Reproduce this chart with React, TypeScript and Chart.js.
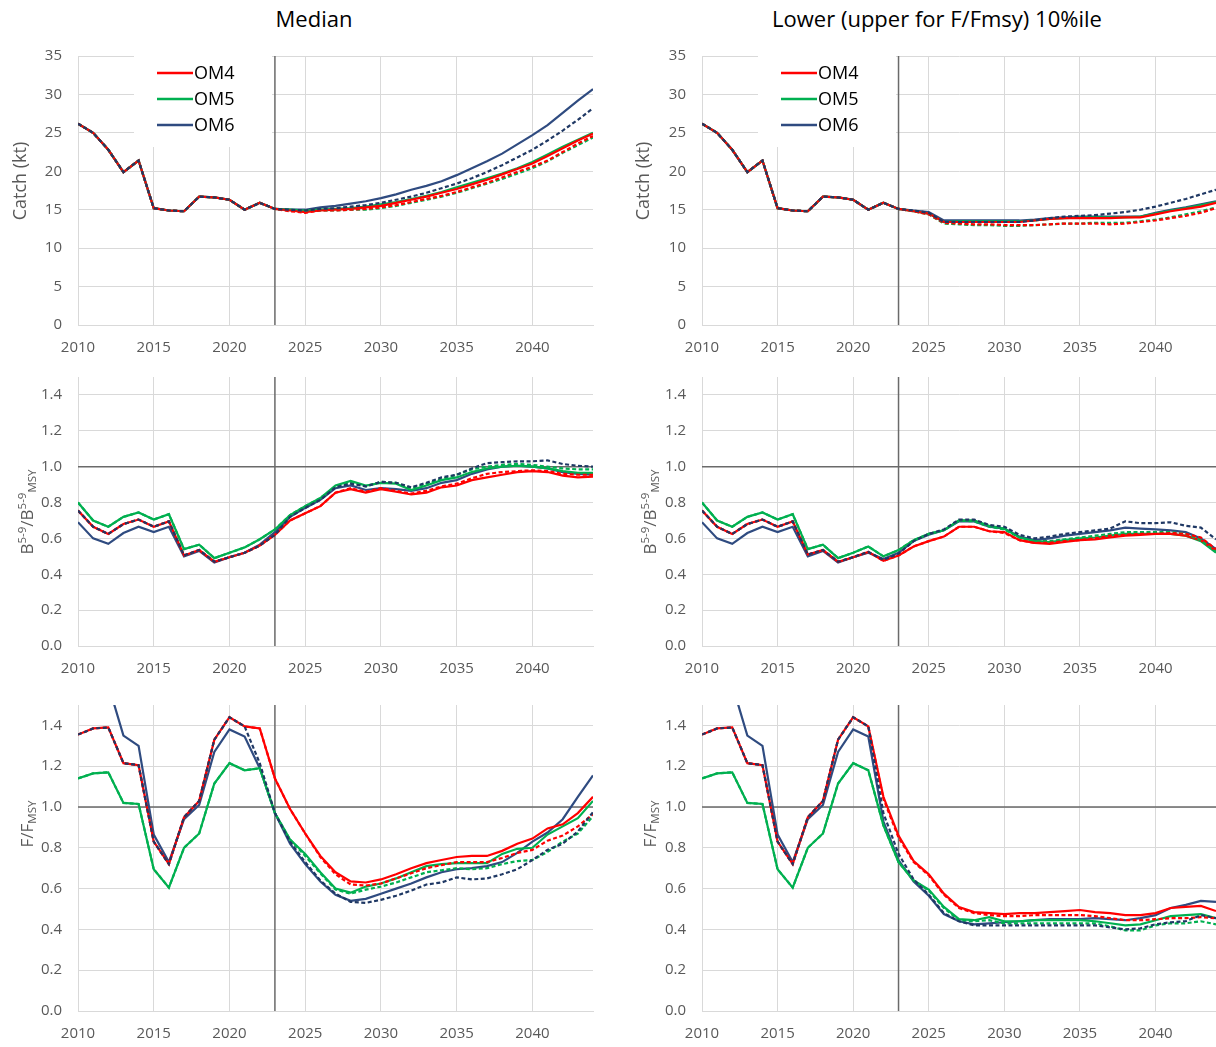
import React, { useEffect, useRef } from "react";
import { Chart, registerables } from "chart.js";
Chart.register(...registerables);

const FONT = "'Open Sans', 'Noto Sans', sans-serif";
const RED = "#FF0000";
const GREEN = "#00B050";
const NAVY = "#2F4B80";
const NAVY_D = "#1F3864";

const YEARS = [2010, 2011, 2012, 2013, 2014, 2015, 2016, 2017, 2018, 2019, 2020, 2021, 2022, 2023, 2024, 2025, 2026, 2027, 2028, 2029, 2030, 2031, 2032, 2033, 2034, 2035, 2036, 2037, 2038, 2039, 2040, 2041, 2042, 2043, 2044];

// ---------- Catch (kt) ----------
const catchHist = [26.2, 25.0, 22.8, 19.9, 21.4, 15.2, 14.9, 14.8, 16.7, 16.6, 16.3, 15.0, 15.9, 15.1];
const catchMedOM4 = [...catchHist, 14.9, 14.7, 14.9, 15.0, 15.1, 15.3, 15.5, 15.9, 16.3, 16.7, 17.2, 17.7, 18.3, 18.9, 19.6, 20.3, 21.0, 22.0, 23.0, 24.0, 24.9];
const catchMedOM5 = [...catchHist, 15.0, 14.9, 15.0, 15.1, 15.2, 15.4, 15.7, 16.0, 16.4, 16.8, 17.3, 17.9, 18.5, 19.1, 19.7, 20.4, 21.2, 22.2, 23.2, 24.1, 25.0];
const catchMedOM6 = [...catchHist, 15.0, 15.0, 15.3, 15.5, 15.8, 16.1, 16.5, 17.0, 17.6, 18.1, 18.7, 19.5, 20.4, 21.3, 22.3, 23.5, 24.7, 26.0, 27.6, 29.2, 30.7];
const catchMedOM4d = [...catchHist, 14.8, 14.6, 14.9, 14.9, 15.0, 15.1, 15.3, 15.6, 16.0, 16.4, 16.8, 17.3, 17.9, 18.5, 19.2, 19.9, 20.6, 21.4, 22.5, 23.6, 24.6];
const catchMedOM5d = [...catchHist, 14.9, 14.8, 14.9, 14.9, 15.0, 15.0, 15.2, 15.5, 15.9, 16.3, 16.7, 17.2, 17.8, 18.4, 19.0, 19.7, 20.4, 21.3, 22.4, 23.4, 24.4];
const catchMedOM6d = [...catchHist, 15.0, 14.9, 15.1, 15.2, 15.4, 15.6, 15.9, 16.3, 16.7, 17.2, 17.8, 18.4, 19.1, 19.9, 20.8, 21.8, 22.8, 24.0, 25.3, 26.7, 28.2];

const catchLoOM4 = [...catchHist, 14.8, 14.5, 13.4, 13.4, 13.4, 13.4, 13.4, 13.4, 13.6, 13.8, 13.9, 13.9, 13.9, 13.9, 14.0, 14.0, 14.4, 14.8, 15.1, 15.4, 15.9];
const catchLoOM5 = [...catchHist, 14.8, 14.5, 13.4, 13.5, 13.5, 13.5, 13.5, 13.5, 13.6, 13.8, 13.9, 14.0, 14.0, 14.0, 14.0, 14.1, 14.5, 14.9, 15.2, 15.6, 16.0];
const catchLoOM6 = [...catchHist, 14.9, 14.7, 13.6, 13.6, 13.6, 13.6, 13.6, 13.6, 13.7, 13.9, 14.0, 14.1, 14.1, 14.1, 14.1, 14.1, 14.6, 15.0, 15.3, 15.7, 16.1];
const catchLoOM4d = [...catchHist, 14.8, 14.4, 13.3, 13.2, 13.1, 13.1, 13.0, 13.0, 13.0, 13.1, 13.2, 13.2, 13.2, 13.1, 13.2, 13.4, 13.6, 13.9, 14.2, 14.6, 15.2];
const catchLoOM5d = [...catchHist, 14.8, 14.4, 13.2, 13.1, 13.0, 13.0, 12.9, 12.9, 13.0, 13.1, 13.2, 13.2, 13.3, 13.3, 13.3, 13.5, 13.7, 14.0, 14.4, 14.8, 15.3];
const catchLoOM6d = [...catchHist, 14.9, 14.6, 13.4, 13.4, 13.4, 13.4, 13.4, 13.4, 13.6, 13.9, 14.1, 14.2, 14.3, 14.5, 14.7, 15.0, 15.4, 15.9, 16.4, 17.0, 17.6];

// ---------- B5-9 / B5-9MSY ----------
const bHistOM4 = [0.755, 0.665, 0.625, 0.68, 0.705, 0.665, 0.695, 0.505, 0.535, 0.47, 0.495, 0.52, 0.56, 0.62];
const bHistOM5 = [0.80, 0.70, 0.665, 0.72, 0.745, 0.705, 0.735, 0.54, 0.565, 0.49, 0.52, 0.55, 0.595, 0.65];
const bHistOM6 = [0.69, 0.60, 0.57, 0.63, 0.665, 0.635, 0.665, 0.50, 0.53, 0.465, 0.495, 0.52, 0.565, 0.635];
const bMedOM4 = [...bHistOM4, 0.70, 0.74, 0.78, 0.855, 0.875, 0.855, 0.875, 0.86, 0.845, 0.855, 0.885, 0.895, 0.925, 0.94, 0.955, 0.97, 0.975, 0.97, 0.95, 0.94, 0.945];
const bMedOM5 = [...bHistOM5, 0.73, 0.78, 0.825, 0.895, 0.92, 0.895, 0.91, 0.905, 0.87, 0.895, 0.925, 0.94, 0.97, 0.99, 1.00, 1.005, 1.0, 0.99, 0.975, 0.965, 0.965];
const bMedOM6 = [...bHistOM6, 0.72, 0.77, 0.815, 0.88, 0.895, 0.87, 0.88, 0.875, 0.865, 0.88, 0.91, 0.925, 0.96, 0.985, 1.0, 1.005, 1.0, 0.99, 0.97, 0.96, 0.955];
const bMedOM4d = [...bHistOM4, 0.70, 0.74, 0.78, 0.855, 0.88, 0.86, 0.88, 0.865, 0.85, 0.865, 0.89, 0.905, 0.935, 0.96, 0.97, 0.975, 0.98, 0.975, 0.96, 0.955, 0.955];
const bMedOM5d = [...bHistOM5, 0.73, 0.78, 0.825, 0.89, 0.91, 0.89, 0.915, 0.91, 0.88, 0.905, 0.93, 0.955, 0.985, 1.0, 1.01, 1.015, 1.01, 1.0, 0.99, 0.985, 0.985];
const bMedOM6d = [...bHistOM4, 0.72, 0.77, 0.815, 0.885, 0.905, 0.89, 0.915, 0.91, 0.885, 0.91, 0.94, 0.955, 0.99, 1.02, 1.025, 1.03, 1.03, 1.035, 1.015, 1.005, 1.0];

const bLoHistOM4 = [0.755, 0.665, 0.625, 0.68, 0.705, 0.665, 0.695, 0.51, 0.535, 0.47, 0.495, 0.525, 0.475, 0.505];
const bLoHistOM5 = [0.80, 0.70, 0.665, 0.72, 0.745, 0.705, 0.735, 0.54, 0.565, 0.49, 0.52, 0.555, 0.50, 0.535];
const bLoHistOM6 = [0.69, 0.60, 0.57, 0.63, 0.665, 0.635, 0.665, 0.50, 0.53, 0.465, 0.495, 0.52, 0.485, 0.52];
const bLoHistOM6d = [0.755, 0.665, 0.625, 0.68, 0.705, 0.665, 0.695, 0.51, 0.535, 0.47, 0.495, 0.525, 0.48, 0.515];
const bLoOM4 = [...bLoHistOM4, 0.555, 0.585, 0.61, 0.665, 0.665, 0.64, 0.635, 0.59, 0.575, 0.57, 0.58, 0.59, 0.595, 0.605, 0.615, 0.62, 0.625, 0.625, 0.615, 0.59, 0.53];
const bLoOM5 = [...bLoHistOM5, 0.59, 0.625, 0.645, 0.70, 0.70, 0.67, 0.655, 0.605, 0.585, 0.58, 0.59, 0.60, 0.605, 0.615, 0.625, 0.625, 0.625, 0.625, 0.615, 0.585, 0.52];
const bLoOM6 = [...bLoHistOM6, 0.585, 0.62, 0.645, 0.695, 0.695, 0.665, 0.655, 0.61, 0.59, 0.60, 0.615, 0.625, 0.635, 0.645, 0.66, 0.655, 0.65, 0.645, 0.635, 0.60, 0.54];
const bLoOM4d = [...bLoHistOM4, 0.555, 0.585, 0.61, 0.665, 0.665, 0.64, 0.63, 0.59, 0.575, 0.575, 0.585, 0.59, 0.60, 0.615, 0.62, 0.625, 0.625, 0.63, 0.625, 0.605, 0.54];
const bLoOM5d = [...bLoHistOM5, 0.59, 0.625, 0.645, 0.70, 0.695, 0.665, 0.65, 0.605, 0.585, 0.585, 0.595, 0.605, 0.615, 0.625, 0.635, 0.635, 0.635, 0.635, 0.625, 0.59, 0.525];
const bLoOM6d = [...bLoHistOM6d, 0.585, 0.625, 0.65, 0.705, 0.705, 0.675, 0.665, 0.62, 0.60, 0.61, 0.625, 0.635, 0.645, 0.655, 0.695, 0.685, 0.685, 0.69, 0.67, 0.66, 0.595];

// ---------- F / FMSY ----------
const fHistOM4 = [1.355, 1.385, 1.39, 1.215, 1.205, 0.83, 0.72, 0.95, 1.03, 1.33, 1.44, 1.395, 1.385, 1.14];
const fHistOM5 = [1.14, 1.165, 1.17, 1.02, 1.015, 0.695, 0.605, 0.80, 0.87, 1.115, 1.215, 1.18, 1.19, 0.97];
const fHistOM6 = [1.60, 1.66, 1.60, 1.35, 1.30, 0.865, 0.73, 0.94, 1.01, 1.27, 1.38, 1.345, 1.19, 0.97];
const fHistOM6d = [1.355, 1.385, 1.39, 1.215, 1.205, 0.83, 0.72, 0.95, 1.03, 1.33, 1.44, 1.395, 1.215, 0.97];
const fMedOM4 = [...fHistOM4, 0.99, 0.87, 0.76, 0.68, 0.635, 0.63, 0.645, 0.67, 0.70, 0.725, 0.74, 0.755, 0.76, 0.76, 0.785, 0.82, 0.845, 0.895, 0.915, 0.97, 1.05];
const fMedOM5 = [...fHistOM5, 0.84, 0.77, 0.68, 0.60, 0.58, 0.61, 0.625, 0.65, 0.68, 0.71, 0.72, 0.725, 0.725, 0.725, 0.77, 0.795, 0.80, 0.865, 0.905, 0.945, 1.03];
const fMedOM6 = [...fHistOM6, 0.82, 0.72, 0.635, 0.57, 0.54, 0.55, 0.575, 0.60, 0.625, 0.655, 0.68, 0.695, 0.70, 0.71, 0.73, 0.775, 0.83, 0.875, 0.94, 1.05, 1.155];
const fMedOM4d = [...fHistOM4, 0.99, 0.87, 0.755, 0.67, 0.62, 0.615, 0.625, 0.65, 0.675, 0.70, 0.715, 0.73, 0.73, 0.73, 0.75, 0.775, 0.79, 0.835, 0.86, 0.905, 0.965];
const fMedOM5d = [...fHistOM5, 0.84, 0.76, 0.675, 0.595, 0.575, 0.595, 0.61, 0.63, 0.655, 0.68, 0.69, 0.70, 0.695, 0.70, 0.72, 0.735, 0.74, 0.78, 0.83, 0.87, 0.955];
const fMedOM6d = [...fHistOM6d, 0.83, 0.73, 0.64, 0.575, 0.535, 0.53, 0.545, 0.565, 0.59, 0.62, 0.63, 0.655, 0.645, 0.65, 0.67, 0.695, 0.74, 0.79, 0.82, 0.88, 0.975];

const fUpHistOM4 = [1.355, 1.385, 1.39, 1.215, 1.205, 0.83, 0.72, 0.95, 1.03, 1.33, 1.44, 1.395, 1.05, 0.86];
const fUpHistOM4d = [1.355, 1.385, 1.39, 1.215, 1.205, 0.83, 0.72, 0.95, 1.03, 1.33, 1.44, 1.395, 1.04, 0.85];
const fUpHistOM5 = [1.14, 1.165, 1.17, 1.02, 1.015, 0.695, 0.605, 0.80, 0.87, 1.115, 1.215, 1.18, 0.91, 0.73];
const fUpHistOM6 = [1.60, 1.66, 1.60, 1.35, 1.30, 0.865, 0.73, 0.94, 1.01, 1.27, 1.38, 1.345, 0.93, 0.74];
const fUpHistOM6d = [1.355, 1.385, 1.39, 1.215, 1.205, 0.83, 0.72, 0.95, 1.03, 1.33, 1.44, 1.395, 0.97, 0.77];
const fUpOM4 = [...fUpHistOM4, 0.735, 0.67, 0.575, 0.51, 0.485, 0.48, 0.475, 0.48, 0.48, 0.485, 0.49, 0.495, 0.485, 0.48, 0.47, 0.47, 0.48, 0.505, 0.51, 0.515, 0.49];
const fUpOM5 = [...fUpHistOM5, 0.64, 0.595, 0.51, 0.45, 0.445, 0.46, 0.44, 0.44, 0.445, 0.445, 0.445, 0.445, 0.44, 0.43, 0.42, 0.425, 0.445, 0.465, 0.47, 0.475, 0.455];
const fUpOM6 = [...fUpHistOM6, 0.635, 0.565, 0.475, 0.44, 0.425, 0.43, 0.435, 0.44, 0.445, 0.45, 0.45, 0.45, 0.455, 0.45, 0.445, 0.455, 0.47, 0.505, 0.52, 0.54, 0.535];
const fUpOM4d = [...fUpHistOM4d, 0.73, 0.665, 0.57, 0.505, 0.48, 0.47, 0.465, 0.465, 0.47, 0.47, 0.47, 0.47, 0.465, 0.455, 0.445, 0.445, 0.45, 0.455, 0.455, 0.46, 0.455];
const fUpOM5d = [...fUpHistOM5, 0.64, 0.59, 0.505, 0.445, 0.44, 0.445, 0.43, 0.43, 0.43, 0.43, 0.43, 0.43, 0.43, 0.415, 0.395, 0.395, 0.42, 0.43, 0.43, 0.44, 0.425];
const fUpOM6d = [...fUpHistOM6d, 0.645, 0.57, 0.48, 0.44, 0.42, 0.42, 0.42, 0.42, 0.42, 0.42, 0.42, 0.42, 0.42, 0.41, 0.40, 0.405, 0.425, 0.435, 0.44, 0.47, 0.455];

const LEGEND_LABELS = ["OM4", "OM5", "OM6"];
const X_TICKS = [2010, 2015, 2020, 2025, 2030, 2035, 2040];
const CATCH_TICKS = [0, 5, 10, 15, 20, 25, 30, 35];
const RATIO_TICKS = [0, 0.2, 0.4, 0.6, 0.8, 1.0, 1.2, 1.4];

type Seg = { text: string; size: number; dy?: number };

const refPlugin = {
  id: "refLines",
  beforeDatasetsDraw(chart: any, _a: any, opts: any) {
    const { ctx, chartArea: a, scales } = chart;
    ctx.save();
    ctx.strokeStyle = "#6a6a6a";
    ctx.lineWidth = 1.5;
    ctx.beginPath();
    const px = scales.x.getPixelForValue(opts.vx);
    ctx.moveTo(px, a.top);
    ctx.lineTo(px, a.bottom);
    if (opts.hy !== undefined && opts.hy !== null) {
      const py = scales.y.getPixelForValue(opts.hy);
      ctx.moveTo(a.left, py);
      ctx.lineTo(a.right, py);
    }
    ctx.stroke();
    ctx.restore();
  },
};

const legendPlugin = {
  id: "boxLegend",
  afterDatasetsDraw(chart: any, _a: any, opts: any) {
    if (!opts.show) return;
    const { ctx, chartArea: a } = chart;
    ctx.save();
    ctx.fillStyle = "#ffffff";
    ctx.fillRect(a.left + 56, a.top - 1, 138, 92);
    const cols = [RED, GREEN, NAVY];
    LEGEND_LABELS.forEach((lab, i) => {
      const y = a.top + 17 + i * 26;
      ctx.strokeStyle = cols[i];
      ctx.lineWidth = 2.5;
      ctx.beginPath();
      ctx.moveTo(a.left + 79, y);
      ctx.lineTo(a.left + 115, y);
      ctx.stroke();
      ctx.fillStyle = "#000000";
      ctx.font = `18px ${FONT}`;
      ctx.textBaseline = "middle";
      ctx.textAlign = "left";
      ctx.fillText(lab, a.left + 116, y + 1);
    });
    ctx.restore();
  },
};

const yTitlePlugin = {
  id: "yTitle",
  afterDraw(chart: any, _a: any, opts: any) {
    const segs: Seg[] = opts.segments;
    if (!segs) return;
    const ctx = chart.ctx;
    ctx.save();
    ctx.translate(opts.x, opts.cy);
    ctx.rotate(-Math.PI / 2);
    ctx.fillStyle = "#595959";
    ctx.textBaseline = "alphabetic";
    ctx.textAlign = "left";
    let total = 0;
    const widths = segs.map((s) => {
      ctx.font = `${s.size}px ${FONT}`;
      const w = ctx.measureText(s.text).width;
      total += w;
      return w;
    });
    let xx = -total / 2;
    segs.forEach((s, i) => {
      ctx.font = `${s.size}px ${FONT}`;
      ctx.fillText(s.text, xx, 6 + (s.dy || 0));
      xx += widths[i];
    });
    ctx.restore();
  },
};

type SeriesDef = { values: number[]; color: string; dashed: boolean };

type PanelProps = {
  left: number;
  top: number;
  width: number;
  height: number;
  yW: number;
  padTop: number;
  padRight: number;
  xH: number;
  yMax: number;
  yTicks: number[];
  decimals: number;
  hLine?: number;
  legend?: boolean;
  title: Seg[];
  titleX: number;
  titleCY: number;
  series: SeriesDef[];
};

function Panel(p: PanelProps) {
  const ref = useRef<HTMLCanvasElement | null>(null);
  useEffect(() => {
    if (!ref.current) return;
    const datasets = p.series.map((s) => ({
      data: s.values.map((v, i) => ({ x: YEARS[i], y: v })),
      borderColor: s.color,
      backgroundColor: s.color,
      borderWidth: 2.2,
      borderDash: s.dashed ? [4, 2.5] : [],
      pointRadius: 0,
      tension: 0,
      fill: false,
    }));
    const chart = new Chart(ref.current, {
      type: "line",
      data: { datasets },
      plugins: [refPlugin, legendPlugin, yTitlePlugin],
      options: {
        animation: false,
        responsive: false,
        devicePixelRatio: 1,
        layout: { padding: { top: p.padTop, right: p.padRight, left: 0, bottom: 0 } },
        plugins: {
          legend: { display: false },
          tooltip: { enabled: false },
          refLines: { vx: 2023, hy: p.hLine },
          boxLegend: { show: !!p.legend },
          yTitle: { segments: p.title, x: p.titleX, cy: p.titleCY },
        } as any,
        scales: {
          x: {
            type: "linear",
            min: 2010,
            max: 2044,
            afterBuildTicks: (s: any) => {
              s.ticks = X_TICKS.map((v) => ({ value: v }));
            },
            afterFit: (s: any) => {
              s.height = p.xH;
              s.paddingLeft = 0;
              s.paddingRight = 0;
            },
            ticks: {
              font: { family: FONT, size: 15 },
              color: "#595959",
              padding: 14,
              maxRotation: 0,
              callback: (v: any) => String(v),
            },
            grid: { color: "#d9d9d9", drawTicks: false, lineWidth: 1 },
            border: { display: true, color: "#d9d9d9", width: 1 },
          },
          y: {
            type: "linear",
            min: 0,
            max: p.yMax,
            afterBuildTicks: (s: any) => {
              s.ticks = p.yTicks.map((v) => ({ value: v }));
            },
            afterFit: (s: any) => {
              s.width = p.yW;
              s.paddingTop = 0;
              s.paddingBottom = 0;
            },
            ticks: {
              font: { family: FONT, size: 15 },
              color: "#595959",
              padding: 16,
              callback: (v: any) => Number(v).toFixed(p.decimals),
            },
            grid: { color: "#d9d9d9", drawTicks: false, lineWidth: 1 },
            border: { display: true, color: "#d9d9d9", width: 1 },
          },
        },
      } as any,
    });
    return () => chart.destroy();
  }, []);
  return (
    <canvas
      ref={ref}
      width={p.width}
      height={p.height}
      style={{ position: "absolute", left: p.left, top: p.top, width: p.width, height: p.height }}
    />
  );
}

function mk(o4: number[], o5: number[], o6: number[], o4d: number[], o5d: number[], o6d: number[]): SeriesDef[] {
  // first dataset drawn on top
  return [
    { values: o6d, color: NAVY_D, dashed: true },
    { values: o4d, color: RED, dashed: true },
    { values: o5d, color: GREEN, dashed: true },
    { values: o4, color: RED, dashed: false },
    { values: o5, color: GREEN, dashed: false },
    { values: o6, color: NAVY, dashed: false },
  ];
}

const catchTitle: Seg[] = [{ text: "Catch (kt)", size: 18 }];
const bTitle: Seg[] = [
  { text: "B", size: 17 },
  { text: "5-9", size: 11.5, dy: -7 },
  { text: "/B", size: 17 },
  { text: "5-9", size: 11.5, dy: -7 },
  { text: "MSY", size: 11.5, dy: 3 },
];
const fTitle: Seg[] = [
  { text: "F/F", size: 17 },
  { text: "MSY", size: 11.5, dy: 3 },
];

export default function App() {
  const L = { left: 0, width: 600, yW: 78, padRight: 7 };
  const R = { left: 610, width: 606, yW: 92, padRight: 0 };
  const rows = [
    { top: 40, height: 330, padTop: 16, xH: 45, yMax: 35, yTicks: CATCH_TICKS, decimals: 0, hLine: undefined, legend: true, title: catchTitle, cy: 141 },
    { top: 362, height: 328, padTop: 15, xH: 44, yMax: 1.5, yTicks: RATIO_TICKS, decimals: 1, hLine: 1.0, legend: false, title: bTitle, cy: 150 },
    { top: 690, height: 357, padTop: 15, xH: 36, yMax: 1.5, yTicks: RATIO_TICKS, decimals: 1, hLine: 1.0, legend: false, title: fTitle, cy: 134 },
  ];
  const leftSeries = [
    mk(catchMedOM4, catchMedOM5, catchMedOM6, catchMedOM4d, catchMedOM5d, catchMedOM6d),
    mk(bMedOM4, bMedOM5, bMedOM6, bMedOM4d, bMedOM5d, bMedOM6d),
    mk(fMedOM4, fMedOM5, fMedOM6, fMedOM4d, fMedOM5d, fMedOM6d),
  ];
  const rightSeries = [
    mk(catchLoOM4, catchLoOM5, catchLoOM6, catchLoOM4d, catchLoOM5d, catchLoOM6d),
    mk(bLoOM4, bLoOM5, bLoOM6, bLoOM4d, bLoOM5d, bLoOM6d),
    mk(fUpOM4, fUpOM5, fUpOM6, fUpOM4d, fUpOM5d, fUpOM6d),
  ];
  const titleXL = [20, 27, 27];
  const titleXR = [33, 40, 40];
  return (
    <div style={{ position: "absolute", left: 0, top: 0, width: 1216, height: 1047, overflow: "hidden", background: "#fff" }}>
      <div style={{ position: "absolute", left: 0, top: 3, width: 628, textAlign: "center", fontFamily: FONT, fontSize: 22, color: "#000" }}>
        Median
      </div>
      <div style={{ position: "absolute", left: 610, top: 3, width: 654, textAlign: "center", fontFamily: FONT, fontSize: 22, color: "#000" }}>
        Lower (upper for F/Fmsy) 10%ile
      </div>
      {rows.map((r, i) => (
        <Panel
          key={"L" + i}
          left={L.left}
          top={r.top}
          width={L.width}
          height={r.height}
          yW={L.yW}
          padTop={r.padTop}
          padRight={L.padRight}
          xH={r.xH}
          yMax={r.yMax}
          yTicks={r.yTicks}
          decimals={r.decimals}
          hLine={r.hLine}
          legend={r.legend}
          title={r.title}
          titleX={titleXL[i]}
          titleCY={r.cy}
          series={leftSeries[i]}
        />
      ))}
      {rows.map((r, i) => (
        <Panel
          key={"R" + i}
          left={R.left}
          top={r.top}
          width={R.width}
          height={r.height}
          yW={R.yW}
          padTop={r.padTop}
          padRight={R.padRight}
          xH={r.xH}
          yMax={r.yMax}
          yTicks={r.yTicks}
          decimals={r.decimals}
          hLine={r.hLine}
          legend={r.legend}
          title={r.title}
          titleX={titleXR[i]}
          titleCY={r.cy}
          series={rightSeries[i]}
        />
      ))}
    </div>
  );
}
